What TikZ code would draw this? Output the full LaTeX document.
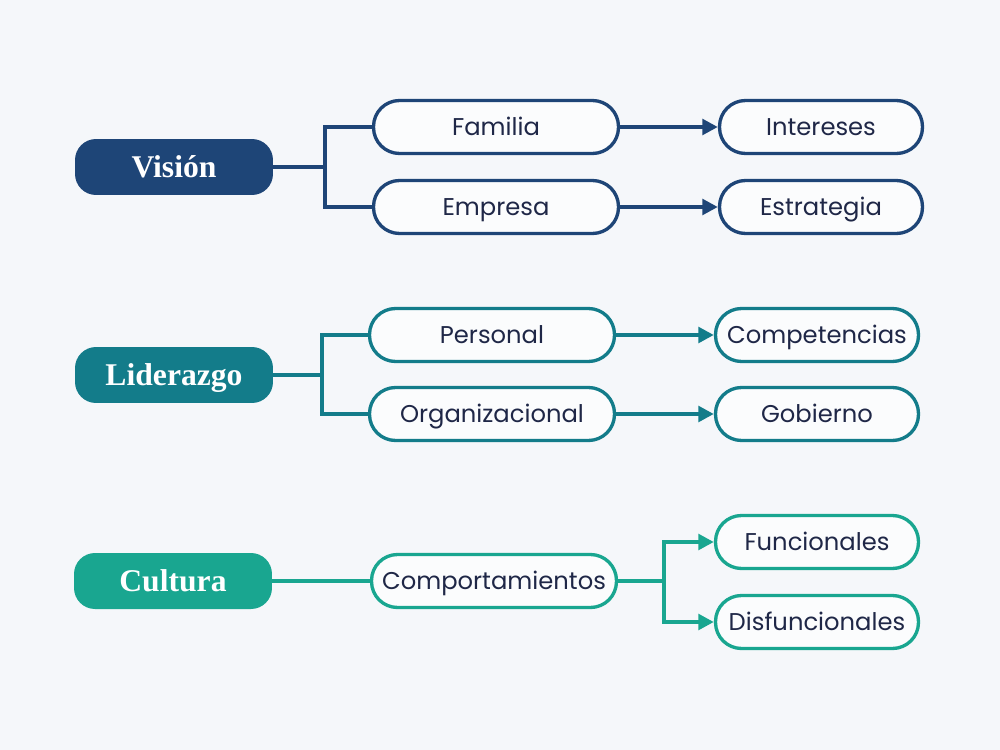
\documentclass[tikz,border=0pt]{standalone}
\usepackage{fontspec}
\setmainfont{Liberation Serif}
\newfontfamily\boxfont{Poppins}
\usetikzlibrary{arrows.meta,backgrounds}
\definecolor{bgcol}{HTML}{F5F7FA}
\definecolor{vcol}{HTML}{1E4577}
\definecolor{lcol}{HTML}{137C8A}
\definecolor{ccol}{HTML}{19A690}
\definecolor{txtcol}{HTML}{1F2747}
\tikzset{
  mainbox/.style={ draw=none, fill=#1, text=white, rounded corners=0.42cm,
    minimum width=3.96cm, minimum height=1.12cm, text height=13.9pt, text depth=2pt,
    font=\fontsize{18}{20}\selectfont\bfseries }
}
\tikzset{
  subbox/.style={ draw=#1, line width=1.9pt, fill=white!60!bgcol, text=txtcol,
    rounded corners=0.52cm, minimum width=4.9cm, minimum height=1.06cm,
    text height=11.6pt, text depth=2pt,
    font=\boxfont\fontsize{13.8}{15}\selectfont }
}
\tikzset{
  leafbox/.style={ subbox=#1, minimum width=4.06cm }
}
\tikzset{
  wire/.style={ draw=#1, line width=2.3pt },
  wirearr/.style={ draw=#1, line width=2.3pt, -{Triangle[length=3.1mm, width=3.1mm]} }
}

\begin{document}
\begin{tikzpicture}[x=0.02cm, y=-0.02cm]
      \fill[bgcol] (0,0) rectangle (1000,750);
      \useasboundingbox (0,0) rectangle (1000,750);

      % Vision
      \node[mainbox=vcol] (vis) at (174,167) {Visión};
      \node[subbox=vcol] (fam) at (496,127) {Familia};
      \node[subbox=vcol] (emp) at (496,207) {Empresa};
      \node[leafbox=vcol] (int) at (821,127) {Intereses};
      \node[leafbox=vcol] (est) at (821,207) {Estrategia};
      \coordinate (vj) at (325,167);
      \draw[wire=vcol] (vis) -- (vj) |- (fam);
      \draw[wire=vcol] (vj) |- (emp);
      \draw[wirearr=vcol] (fam) -- (int);
      \draw[wirearr=vcol] (emp) -- (est);

      % Liderazgo
      \node[mainbox=lcol] (lid) at (174,375) {Liderazgo};
      \node[subbox=lcol] (per) at (492,335) {Personal};
      \node[subbox=lcol] (org) at (492,414) {Organizacional};
      \node[leafbox=lcol] (com) at (817,335) {Competencias};
      \node[leafbox=lcol] (gob) at (817,414) {Gobierno};
      \coordinate (lj) at (322,375);
      \draw[wire=lcol] (lid) -- (lj) |- (per);
      \draw[wire=lcol] (lj) |- (org);
      \draw[wirearr=lcol] (per) -- (com);
      \draw[wirearr=lcol] (org) -- (gob);

      % Cultura
      \node[mainbox=ccol] (cul) at (173,581) {Cultura};
      \node[subbox=ccol] (cmp) at (494,581) {Comportamientos};
      \node[leafbox=ccol] (fun) at (817,542) {Funcionales};
      \node[leafbox=ccol] (dis) at (817,622) {Disfuncionales};
      \coordinate (cj) at (664,581);
      \draw[wire=ccol] (cul) -- (cmp);
      \draw[wire=ccol] (cmp) -- (cj);
      \draw[wirearr=ccol] (cj) |- (fun);
      \draw[wirearr=ccol] (cj) |- (dis);

    \end{tikzpicture}
\end{document}
